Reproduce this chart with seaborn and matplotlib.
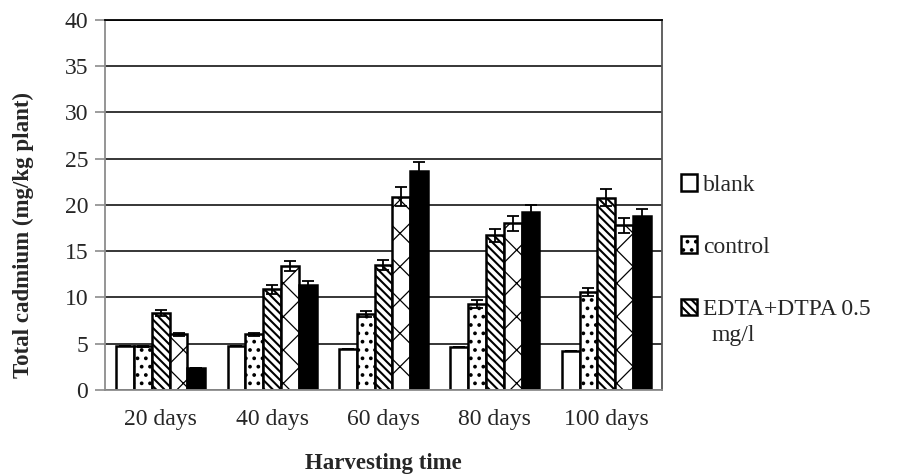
import matplotlib
matplotlib.use("Agg")
import matplotlib.pyplot as plt
import seaborn as sns
import pandas as pd

days = ["20 days", "40 days", "60 days", "80 days", "100 days"]
treatments = ["blank", "control", "EDTA+DTPA 0.5 mg/l", "treatment 4", "treatment 5"]

blank = [4.8, 4.8, 4.4, 4.6, 4.2]
control = [4.7, 6.0, 8.2, 9.3, 10.6]
edta_05 = [8.3, 10.9, 13.5, 16.7, 20.8]
treat_4 = [6.0, 13.4, 20.9, 18.0, 17.8]
treat_5 = [2.4, 11.4, 23.7, 19.2, 18.8]

blank_err = [0.0, 0.0, 0.0, 0.0, 0.0]
control_err = [0.1, 0.2, 0.3, 0.4, 0.4]
edta_05_err = [0.3, 0.5, 0.5, 0.7, 0.9]
treat_4_err = [0.2, 0.5, 1.0, 0.8, 0.8]
treat_5_err = [0.0, 0.4, 0.9, 0.8, 0.8]

values = [blank, control, edta_05, treat_4, treat_5]
errors = [blank_err, control_err, edta_05_err, treat_4_err, treat_5_err]

df = pd.DataFrame({
    "day": days * len(treatments),
    "treatment": [t for t in treatments for _ in days],
    "value": [v for series in values for v in series],
})

sns.set_theme(style="white")
plt.rcParams["font.family"] = ["Liberation Serif", "DejaVu Serif"]
plt.rcParams["hatch.linewidth"] = 1.5

fig = plt.figure(figsize=(9.05, 4.75), dpi=100)
ax = fig.add_axes([0.116, 0.179, 0.6155, 0.779])

palette = ["white", "white", "white", "white", "black"]
hatches = ["", "..", "\\\\\\\\", "x", ""]
hatch_widths = [1.5, 1.5, 1.5, 0.9, 1.5]

sns.barplot(data=df, x="day", y="value", hue="treatment", order=days, hue_order=treatments,
            palette=palette, edgecolor="black", linewidth=1.8, errorbar=None,
            width=0.8, legend=False, ax=ax)

for cont, hatch, hw, errs, vals in zip(ax.containers, hatches, hatch_widths, errors, values):
    xs = []
    for bar in cont:
        bar.set_hatch(hatch)
        if hasattr(bar, "set_hatch_linewidth"):
            bar.set_hatch_linewidth(hw)
        xs.append(bar.get_x() + bar.get_width() / 2)
    ax.errorbar(xs, vals, yerr=errs, fmt="none", ecolor="black", elinewidth=1.3,
                capsize=4.5, capthick=1.3, zorder=5)

ax.set_ylim(0, 40)
ax.set_yticks(range(0, 41, 5))
ax.set_xlim(-0.5, 4.5)
ax.yaxis.grid(True, color="black", linewidth=1.1)
ax.set_axisbelow(True)

for side in ["left", "bottom"]:
    ax.spines[side].set_color("#8c8c8c")
    ax.spines[side].set_linewidth(1.3)
ax.spines["top"].set_color("black")
ax.spines["top"].set_linewidth(1.3)
ax.spines["right"].set_color("#555555")
ax.spines["right"].set_linewidth(1.3)

ax.tick_params(axis="y", direction="out", length=7, width=1.2, color="#8c8c8c",
               labelsize=17, pad=5, left=True)
ax.tick_params(axis="x", length=0, labelsize=17, pad=14)

ax.set_xlabel("Harvesting time", fontsize=16.5, fontweight="bold", labelpad=16)
ax.set_ylabel("Total cadmium (mg/kg plant)", fontsize=16.5, fontweight="bold")
ax.yaxis.set_label_coords(-0.128, 0.42)

handles = ax.containers[0][:1] + ax.containers[1][:1] + ax.containers[2][:1]
fig.legend(handles, ["blank", "control", "EDTA+DTPA 0.5"], loc="upper left",
           bbox_to_anchor=(0.752, 0.633), frameon=False, fontsize=17,
           handlelength=0.7, handleheight=0.7, handletextpad=0.25, labelspacing=1.72,
           borderaxespad=0, borderpad=0)
fig.text(0.786, 0.294, "mg/l", fontsize=17, va="center", ha="left")

fig.savefig("out.png", dpi=100)
